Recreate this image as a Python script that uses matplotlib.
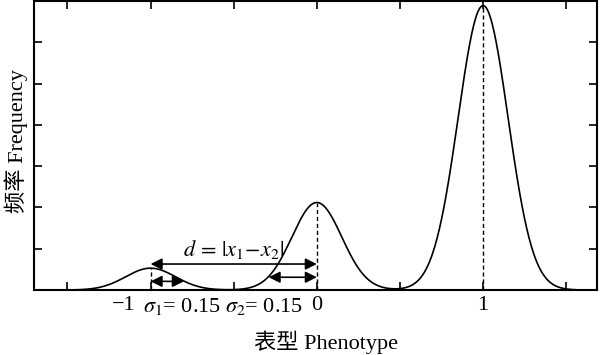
import numpy as np
import matplotlib
matplotlib.use("Agg")
import matplotlib.pyplot as plt

plt.rcParams['font.family'] = ['Liberation Serif', 'Noto Sans CJK SC']
plt.rcParams['mathtext.fontset'] = 'stix'

# Data
centers = [-1.0, 0.0, 1.0]
amplitudes = [0.053, 0.212, 0.689]
sigmas = [0.15, 0.15, 0.15]
x_ticks = [-1.5, -1.0, -0.5, 0.0, 0.5, 1.0, 1.5]
y_ticks = [0.1, 0.2, 0.3, 0.4, 0.5, 0.6]
tick_texts = ['\u22121', r'$\sigma_1$= 0.15', r'$\sigma_2$= 0.15', '0', '1']
tick_text_x = [-1.16, -0.81, -0.32, 0.0, 1.0]
d_arrow = (-1.0, 0.0, 0.063)
s1_arrow = (-1.0, -0.8, 0.021)
s2_arrow = (-0.29, 0.0, 0.031)

xs = np.linspace(-1.62, 1.62, 1200)
ys = np.zeros_like(xs)
for c, a, s in zip(centers, amplitudes, sigmas):
    ys += a * np.exp(-(xs - c) ** 2 / (2 * s ** 2))

fig = plt.figure(figsize=(6.0, 3.55), dpi=100)
ax = fig.add_axes([0.057, 0.183, 0.938, 0.814])
ax.plot(xs, ys, color='black', lw=1.2)
for c, a in zip(centers, amplitudes):
    ax.plot([c, c], [0, a], color='black', lw=1.0, ls=(0, (3, 2)))

ax.set_xlim(-1.7, 1.685)
ax.set_ylim(0, 0.7)
ax.set_xticks(x_ticks)
ax.set_yticks(y_ticks)
ax.tick_params(direction='in', length=6, width=1.2, top=True, right=True,
               labelbottom=False, labelleft=False)
for sp in ax.spines.values():
    sp.set_linewidth(1.5)

fs = 16
for t, xv in zip(tick_texts, tick_text_x):
    ax.text(xv, -0.014, t, ha='center', va='top', fontsize=fs)

ap = dict(arrowstyle='<|-|>', color='black', lw=1.2, mutation_scale=17,
          shrinkA=0, shrinkB=0)
for (x0, x1, yv) in [d_arrow, s1_arrow, s2_arrow]:
    ax.annotate('', xy=(x1, yv), xytext=(x0, yv), arrowprops=ap)
ax.text(-0.5, 0.07, r'$d\,=\,|x_1\!-\!x_2|$', ha='center', va='bottom', fontsize=fs)

fig.text(0.543, 0.035, '表型 Phenotype', ha='center', va='center', fontsize=fs)
fig.text(0.027, 0.603, '频率 Frequency', ha='center', va='center', fontsize=fs,
         rotation=90)

fig.savefig('out.png', dpi=100)
